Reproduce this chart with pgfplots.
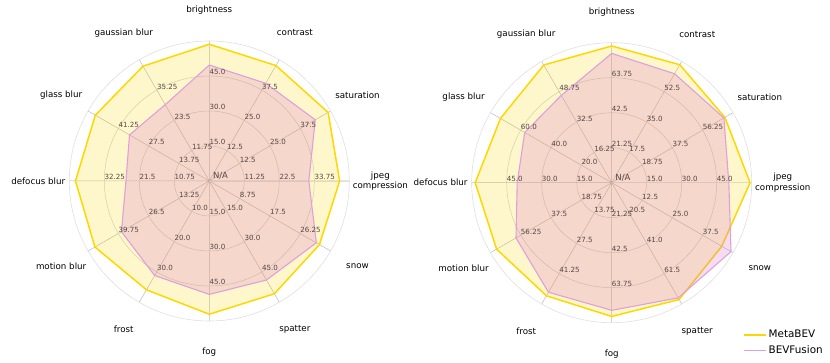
\documentclass[border=0pt]{standalone}
\usepackage{fontspec}
\setmainfont{DejaVu Sans}
\usepackage{pgfplots}
\pgfplotsset{compat=1.18}
\usepackage{pgfplotstable}
\usepgfplotslibrary{polar}

\definecolor{metaline}{RGB}{255,215,0}
\definecolor{bevline}{RGB}{221,160,221}
\definecolor{bevfill}{RGB}{214,120,200}
\definecolor{ticktext}{RGB}{85,72,72}

% angle, value, axis maximum (each spoke has its own scale)
\pgfplotstableread{
angle meta bev max
90   58.6 49.7 60
60   47.6 40.3 50
30   49.0 43.7 50
0    41.9 32.0 45
-30  31.8 30.9 35
-60  55.8 49.0 60
-90  57.1 48.6 60
-120 35.9 31.2 40
-150 50.0 38.4 53
180  41.1 25.6 43
150  51.7 36.2 55
120  44.5 29.6 47
90   58.6 49.7 60
}\leftdata

\pgfplotstableread{
angle meta bev max
90   83.0 78.5 85
60   68.1 62.9 70
30   70.0 69.4 75
0    59.3 50.2 60
-30  45.4 49.2 50
-60  79.0 77.9 82
-90  81.2 77.5 85
-120 51.3 49.7 55
-150 71.2 59.2 75
180  58.5 40.5 60
150  73.4 57.4 80
120  63.1 46.8 65
90   83.0 78.5 85
}\rightdata

\tikzset{
  tl/.style={anchor=base west, inner sep=0pt, yshift=1pt, text=ticktext,
    font=\fontsize{7.1}{8}\selectfont},
  cat/.style={anchor=center, inner sep=0pt, align=center,
    font=\fontsize{8.7}{10.5}\selectfont},
}
\newcommand\ticks[4]{%
  \node[tl] at (axis cs:#1,0.25) {#2};
  \node[tl] at (axis cs:#1,0.5) {#3};
  \node[tl] at (axis cs:#1,0.75) {#4};}
\newcommand\cats{%
  \node[cat] at (axis cs:90,1.222) {brightness};
  \node[cat] at (axis cs:60,1.222) {contrast};
  \node[cat] at (axis cs:30,1.222) {saturation};
  \node[cat] at (axis cs:0,1.222) {jpeg\\compression};
  \node[cat] at (axis cs:-30,1.222) {snow};
  \node[cat] at (axis cs:-60,1.222) {spatter};
  \node[cat] at (axis cs:-90,1.222) {fog};
  \node[cat] at (axis cs:-120,1.222) {frost};
  \node[cat] at (axis cs:-150,1.222) {motion blur};
  \node[cat] at (axis cs:180,1.222) {defocus blur};
  \node[cat] at (axis cs:150,1.222) {glass blur};
  \node[cat] at (axis cs:120,1.222) {gaussian blur};
  \node[tl, font=\fontsize{8.5}{10}\selectfont, xshift=3.5pt, yshift=1.5pt] at (axis cs:0,0) {N/A};}

\pgfplotsset{radar/.style={
  scale only axis, width=280pt, height=280pt, anchor=origin,
  ymin=0, ymax=1,
  xtick={0,30,...,330}, ytick={0.25,0.5,0.75},
  xticklabels={}, yticklabels={}, major tick length=0pt,
  grid=major,
  major x grid style={gray!55, line width=0.5pt},
  major y grid style={gray!40, line width=0.5pt},
  axis line style={gray!25, line width=0.6pt},
  clip=false,
}}

\begin{document}
\begin{tikzpicture}
\useasboundingbox (0,0) rectangle (830pt,363pt);

\begin{polaraxis}[radar, at={(209.3pt,182pt)}]
\addplot[draw=metaline, line width=1.5pt, fill=metaline, fill opacity=0.2]
  table[x=angle, y expr=\thisrow{meta}/\thisrow{max}] {\leftdata};
\addplot[draw=bevline, line width=1.1pt, fill=bevfill, fill opacity=0.25]
  table[x=angle, y expr=\thisrow{bev}/\thisrow{max}] {\leftdata};
\ticks{90}{15.0}{30.0}{45.0}
\ticks{60}{12.5}{25.0}{37.5}
\ticks{30}{12.5}{25.0}{37.5}
\ticks{0}{11.25}{22.5}{33.75}
\ticks{-30}{8.75}{17.5}{26.25}
\ticks{-60}{15.0}{30.0}{45.0}
\ticks{-90}{15.0}{30.0}{45.0}
\ticks{-120}{10.0}{20.0}{30.0}
\ticks{-150}{13.25}{26.5}{39.75}
\ticks{180}{10.75}{21.5}{32.25}
\ticks{150}{13.75}{27.5}{41.25}
\ticks{120}{11.75}{23.5}{35.25}
\cats
\end{polaraxis}

\begin{polaraxis}[radar, at={(611.7pt,180.3pt)},
  legend style={at={(0.958,-0.012)}, anchor=north west, draw=none, fill=none,
    font=\fontsize{10.4}{12}\selectfont, row sep=2.5pt},
  legend cell align=left,
  legend image code/.code={\draw[#1, fill=none, draw opacity=1] (0pt,0pt) -- (22pt,0pt);}]
\addplot[draw=metaline, line width=1.5pt, fill=metaline, fill opacity=0.2]
  table[x=angle, y expr=\thisrow{meta}/\thisrow{max}] {\rightdata};
\addlegendentry{MetaBEV}
\addplot[draw=bevline, line width=1.1pt, fill=bevfill, fill opacity=0.25]
  table[x=angle, y expr=\thisrow{bev}/\thisrow{max}] {\rightdata};
\addlegendentry{BEVFusion}
\ticks{90}{21.25}{42.5}{63.75}
\ticks{60}{17.5}{35.0}{52.5}
\ticks{30}{18.75}{37.5}{56.25}
\ticks{0}{15.0}{30.0}{45.0}
\ticks{-30}{12.5}{25.0}{37.5}
\ticks{-60}{20.5}{41.0}{61.5}
\ticks{-90}{21.25}{42.5}{63.75}
\ticks{-120}{13.75}{27.5}{41.25}
\ticks{-150}{18.75}{37.5}{56.25}
\ticks{180}{15.0}{30.0}{45.0}
\ticks{150}{20.0}{40.0}{60.0}
\ticks{120}{16.25}{32.5}{48.75}
\cats
\end{polaraxis}
\end{tikzpicture}
\end{document}
